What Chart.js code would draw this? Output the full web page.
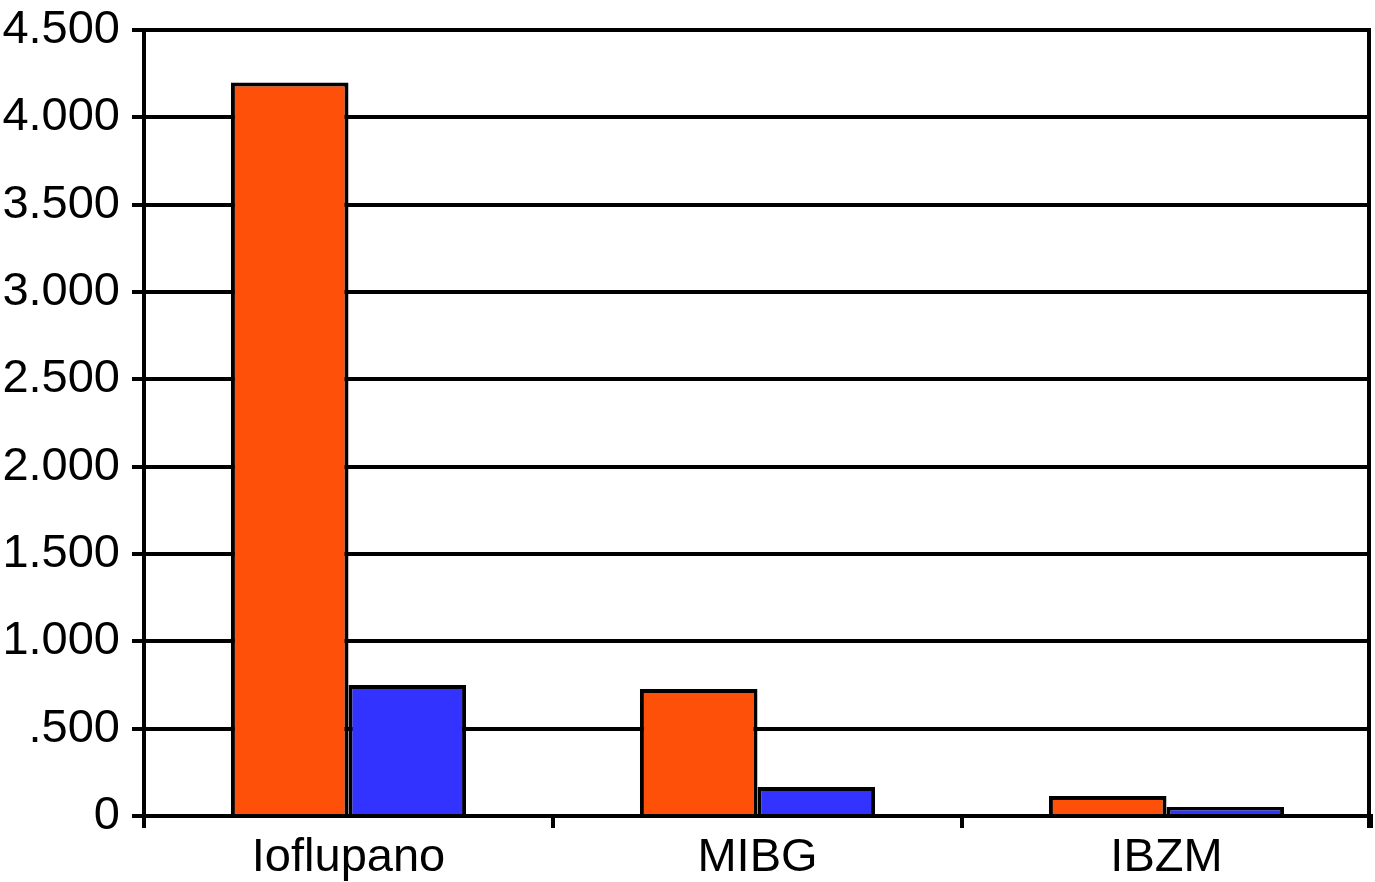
<!DOCTYPE html>
<html>
<head>
<meta charset="utf-8">
<script src="https://cdn.jsdelivr.net/npm/chart.js@4/dist/chart.umd.min.js"></script>
<style>
  html, body { margin: 0; padding: 0; background: #ffffff; }
  #wrap { width: 1375px; height: 882px; }
</style>
</head>
<body>
<div id="wrap"><canvas id="myBarChart"></canvas></div>
<script>
// Datos del gráfico
const categories = ['Ioflupano', 'MIBG', 'IBZM'];
const serieNaranja = [4200, 727, 115];
const serieAzul = [750, 166, 52];
// Etiquetas del eje Y (de abajo hacia arriba)
const tickLabels = ['0', '.500', '1.000', '1.500', '2.000', '2.500', '3.000', '3.500', '4.000', '4.500'];

const fuente = '"Liberation Sans", Arial, Helvetica, sans-serif';

// Dibuja el borde derecho del área del gráfico
const rightBorder = {
    id: 'rightBorder',
    afterDraw(chart) {
        const { ctx, chartArea } = chart;
        ctx.save();
        ctx.strokeStyle = '#000000';
        ctx.lineWidth = 4;
        ctx.beginPath();
        ctx.moveTo(chartArea.right - 2, chartArea.top - 2);
        ctx.lineTo(chartArea.right - 2, chartArea.bottom + 12);
        ctx.stroke();
        ctx.restore();
    }
};

const data = {
    labels: categories,
    datasets: [{
        label: 'Serie 1',
        data: serieNaranja,
        backgroundColor: '#FF500A',
        borderColor: '#000000',
        borderWidth: 4
    }, {
        label: 'Serie 2',
        data: serieAzul,
        backgroundColor: '#3333FF',
        borderColor: '#000000',
        borderWidth: 4
    }]
};

const config = {
    type: 'bar',
    data: data,
    plugins: [rightBorder],
    options: {
        responsive: true,
        maintainAspectRatio: false,
        animation: false,
        datasets: {
            bar: { categoryPercentage: 0.575, barPercentage: 1.0 }
        },
        layout: { padding: { top: 30, right: 4, left: 0, bottom: 0 } },
        plugins: {
            legend: { display: false },
            tooltip: { enabled: false }
        },
        scales: {
            x: {
                grid: {
                    offset: true,
                    drawOnChartArea: false,
                    color: '#000000',
                    lineWidth: 4,
                    tickLength: 12
                },
                border: { display: true, color: '#000000', width: 4 },
                ticks: {
                    color: '#000000',
                    padding: 2,
                    font: { family: fuente, size: 47 }
                },
                afterFit(scale) {
                    scale.height = 66;
                    scale.paddingLeft = 0;
                    scale.paddingRight = 0;
                }
            },
            y: {
                min: 0,
                max: 4500,
                ticks: {
                    stepSize: 500,
                    color: '#000000',
                    padding: 12,
                    font: { family: fuente, size: 47 },
                    callback: (value, index) => tickLabels[index]
                },
                grid: {
                    color: '#000000',
                    lineWidth: 4,
                    tickLength: 12
                },
                border: { display: true, color: '#000000', width: 4 },
                afterFit(scale) {
                    scale.width = 144;
                    scale.paddingTop = 0;
                    scale.paddingBottom = 0;
                }
            }
        }
    }
};

const ctx = document.getElementById('myBarChart').getContext('2d');
new Chart(ctx, config);
</script>
</body>
</html>
